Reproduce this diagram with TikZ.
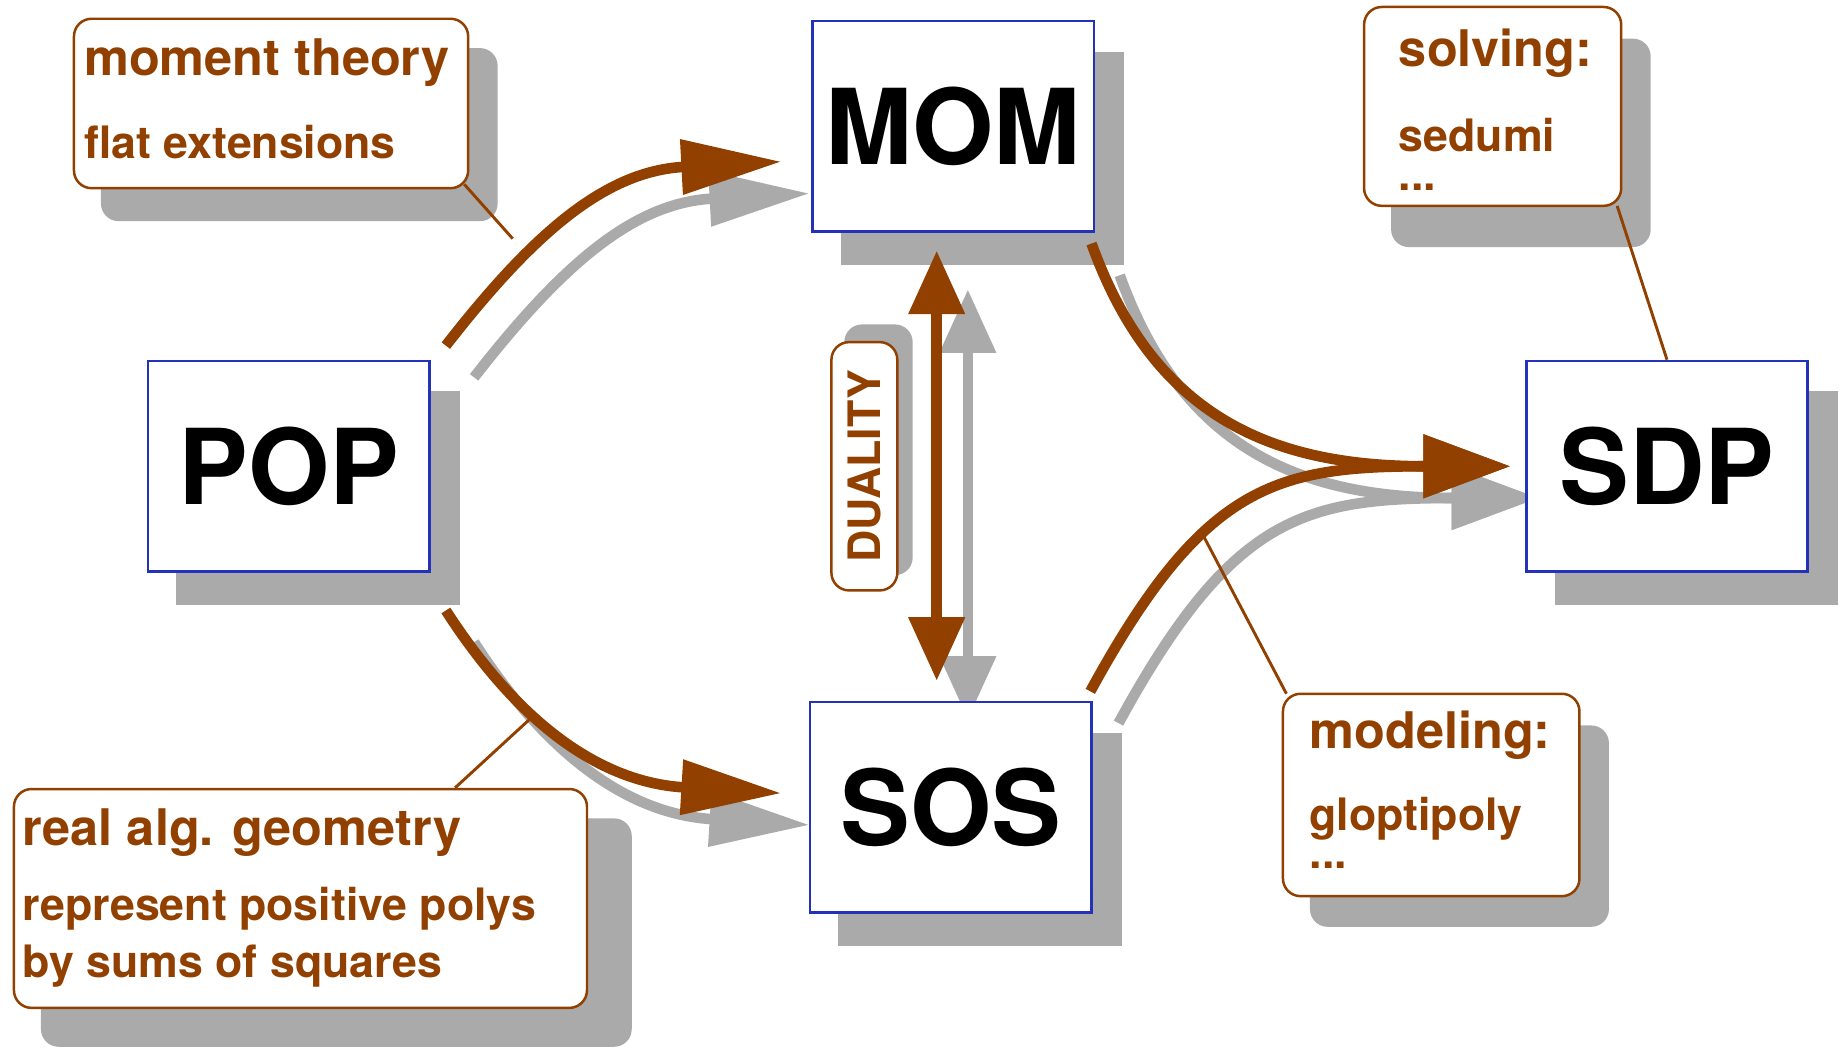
\documentclass[tikz,border=0pt]{standalone}
\usepackage{fontspec}
\setmainfont{TeX Gyre Heros}
\usetikzlibrary{arrows.meta}

\definecolor{rustbrown}{RGB}{145,64,0}
\definecolor{shadowgray}{RGB}{170,170,170}
\definecolor{boxblue}{RGB}{35,50,185}

\pgfdeclarelayer{under}
\pgfdeclarelayer{flows}
\pgfsetlayers{under,flows,main}

\begin{document}
\begin{tikzpicture}[x=0.01cm, y=-0.01cm,
    main box/.style={draw=boxblue, line width=0.6pt, fill=white, inner sep=0pt,
                     minimum width=2.39cm, minimum height=1.79cm,
                     font=\fontsize{25.3}{30}\selectfont\bfseries},
    note box/.style={draw=rustbrown, line width=0.6pt, fill=white, inner sep=0pt,
                     rounded corners=0.15cm},
    note head/.style={anchor=base west, inner sep=0pt, text=rustbrown,
                      font=\fontsize{12.2}{14}\selectfont\bfseries},
    note text/.style={note head, font=\fontsize{10.8}{13}\selectfont\bfseries},
    flow line/.style={line width=0.09cm},
    to box/.style={flow line, -{Triangle[length=0.85cm, width=0.45cm]}},
    to sdp/.style={flow line, -{Triangle[length=0.74cm, width=0.52cm]}},
    dual/.style={flow line, {Triangle[length=0.54cm, width=0.46cm]}-{Triangle[length=0.54cm, width=0.46cm]}},
    pointer/.style={draw=rustbrown, line width=0.7pt}]

  \useasboundingbox (0,0) rectangle (1568,892);

  \node[main box] (pop) at (245.5,396.5) {POP};
  \node[main box] (mom) at (810.5,107.5) {MOM};
  \node[main box] (sos) at (808.5,686.5) {SOS};
  \node[main box] (sdp) at (1417.5,396.5) {SDP};

  \node[note box, minimum width=3.35cm, minimum height=1.44cm] (mt) at (230.5,88) {};
  \node[note head] (mt1) at ([shift={(9,49)}]mt.north west) {moment theory};
  \node[note text] (mt2) at ([shift={(9,120)}]mt.north west) {flat extensions};

  \node[note box, minimum width=4.87cm, minimum height=1.86cm] (ra) at (255.5,764) {};
  \node[note head] (ra1) at ([shift={(8,49)}]ra.north west) {real alg. geometry};
  \node[note text] (ra2) at ([shift={(8,113)}]ra.north west) {represent positive polys};
  \node[note text] (ra3) at ([shift={(8,161.5)}]ra.north west) {by sums of squares};

  \node[note box, minimum width=2.185cm, minimum height=1.69cm] (sv) at (1269.25,90.5) {};
  \node[note head] (sv1) at ([shift={(30,52)}]sv.north west) {solving:};
  \node[note text] (sv2) at ([shift={(30,124)}]sv.north west) {sedumi};
  \node[note text] (sv3) at ([shift={(30,157)}]sv.north west) {...};

  \node[note box, minimum width=2.52cm, minimum height=1.72cm] (md) at (1217,676) {};
  \node[note head] (md1) at ([shift={(23,48)}]md.north west) {modeling:};
  \node[note text] (md2) at ([shift={(23,117)}]md.north west) {gloptipoly};
  \node[note text] (md3) at ([shift={(23,150)}]md.north west) {...};

  \node[note box, rotate=90, minimum width=2.11cm, minimum height=0.56cm, text=rustbrown,
        font=\fontsize{10.8}{13}\selectfont\bfseries] (du) at (735,396.5) {DUALITY};

  \coordinate (mt end) at (436,203);
  \coordinate (ra end) at (450,612);
  \coordinate (md end) at (1024,457);

  \draw[pointer] ([shift={(-4.4,-4.4)}]mt.south east) -- (mt end);
  \draw[pointer] ([shift={(131.5,0)}]ra.north) -- (ra end);
  \draw[pointer] ([shift={(-4.5,-1)}]sv.south east) -- (sdp.north);
  \draw[pointer] ([shift={(4,1)}]md.north west) -- (md end);

  \begin{pgfonlayer}{flows}
  \foreach \col/\dx/\dy/\ex/\ey in {shadowgray/24/27/26.5/33, rustbrown/0/0/0/0} {
    \draw[to box, color=\col] ([shift={(13+\dx,-12+\dy)}]pop.north east)
      .. controls +(74,-95) and +(-150,8) .. ([shift={(-25.5+\dx,30+\dy)}]mom.west);
    \draw[to box, color=\col] ([shift={(13+\dx,32+\dy)}]pop.south east)
      .. controls +(65,101) and +(-150,-9) .. ([shift={(-23.5+\dx,-12+\dy)}]sos.west);
    \draw[to sdp, color=\col] ([shift={(-3+\dx,9+\dy)}]mom.south east)
      .. controls +(54,150) and +(-200,0) .. ([shift={(-12.5+\dx,\dy)}]sdp.west);
    \draw[to sdp, color=\col] ([shift={(-2+\dx,-8+\dy)}]sos.north east)
      .. controls +(96,-176) and +(-200,0) .. ([shift={(-12.5+\dx,\dy)}]sdp.west);
    \draw[dual, color=\col] ([shift={(-14+\ex,15+\ey)}]mom.south)
      -- ([shift={(-12+\ex,-17+\ey)}]sos.north);
  }
  \end{pgfonlayer}

  \begin{pgfonlayer}{under}
  \foreach \n in {pop,mom,sos,sdp}
    \fill[shadowgray] ([shift={(25,27)}]\n.north west) rectangle ([shift={(25,27)}]\n.south east);
  \foreach \n/\ax/\ay/\bx/\by in {mt/24/26/24/27,ra/24/26/37/32,sv/24/28/24/34,md/24/28/24/25,du/12/-14/12/-14}
    \fill[shadowgray, rounded corners=0.15cm] ([shift={(\ax,\ay)}]\n.north west)
      rectangle ([shift={(\bx,\by)}]\n.south east);
  \end{pgfonlayer}

\end{tikzpicture}
\end{document}
